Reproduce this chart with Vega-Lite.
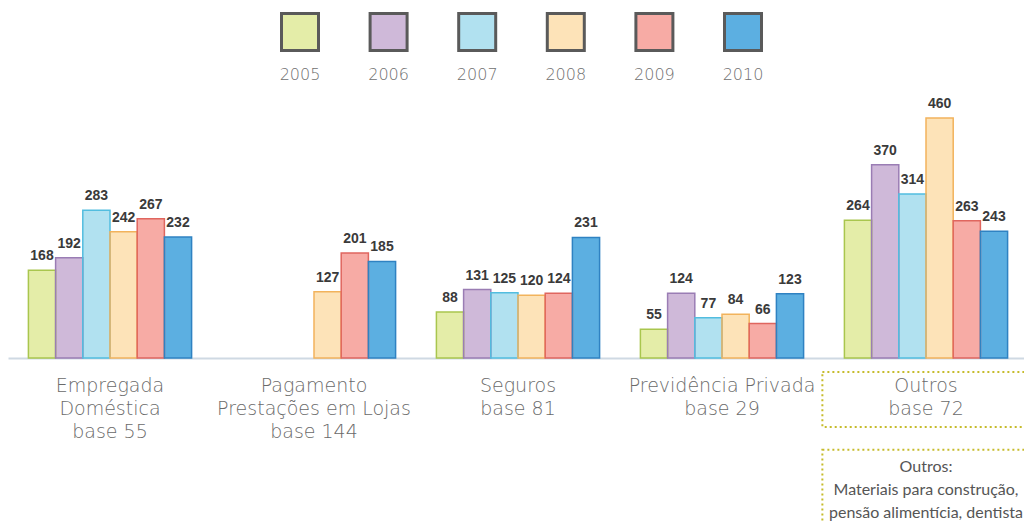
{
  "$schema": "https://vega.github.io/schema/vega-lite/v6.json",
  "width": 1020,
  "height": 261,
  "autosize": {"type": "none"},
  "padding": {"left": 8, "top": 97, "right": 0, "bottom": 165},
  "background": "white",
  "config": {"view": {"stroke": null}},
  "datasets": {
    "bars": [
      {"categoria": "Empregada|Doméstica|base 55", "ano": "2005", "valor": 168},
      {"categoria": "Empregada|Doméstica|base 55", "ano": "2006", "valor": 192},
      {"categoria": "Empregada|Doméstica|base 55", "ano": "2007", "valor": 283},
      {"categoria": "Empregada|Doméstica|base 55", "ano": "2008", "valor": 242},
      {"categoria": "Empregada|Doméstica|base 55", "ano": "2009", "valor": 267},
      {"categoria": "Empregada|Doméstica|base 55", "ano": "2010", "valor": 232},
      {"categoria": "Pagamento|Prestações em Lojas|base 144", "ano": "2008", "valor": 127},
      {"categoria": "Pagamento|Prestações em Lojas|base 144", "ano": "2009", "valor": 201},
      {"categoria": "Pagamento|Prestações em Lojas|base 144", "ano": "2010", "valor": 185},
      {"categoria": "Seguros|base 81", "ano": "2005", "valor": 88},
      {"categoria": "Seguros|base 81", "ano": "2006", "valor": 131},
      {"categoria": "Seguros|base 81", "ano": "2007", "valor": 125},
      {"categoria": "Seguros|base 81", "ano": "2008", "valor": 120},
      {"categoria": "Seguros|base 81", "ano": "2009", "valor": 124},
      {"categoria": "Seguros|base 81", "ano": "2010", "valor": 231},
      {"categoria": "Previdência Privada|base 29", "ano": "2005", "valor": 55},
      {"categoria": "Previdência Privada|base 29", "ano": "2006", "valor": 124},
      {"categoria": "Previdência Privada|base 29", "ano": "2007", "valor": 77},
      {"categoria": "Previdência Privada|base 29", "ano": "2008", "valor": 84},
      {"categoria": "Previdência Privada|base 29", "ano": "2009", "valor": 66},
      {"categoria": "Previdência Privada|base 29", "ano": "2010", "valor": 123},
      {"categoria": "Outros|base 72", "ano": "2005", "valor": 264},
      {"categoria": "Outros|base 72", "ano": "2006", "valor": 370},
      {"categoria": "Outros|base 72", "ano": "2007", "valor": 314},
      {"categoria": "Outros|base 72", "ano": "2008", "valor": 460},
      {"categoria": "Outros|base 72", "ano": "2009", "valor": 263},
      {"categoria": "Outros|base 72", "ano": "2010", "valor": 243}
    ],
    "notes": [
      {"categoria": "Outros|base 72", "nota": "Outros:|Materiais para construção,|pensão alimentícia, dentista"}
    ]
  },
  "layer": [
    {
      "data": {"name": "bars"},
      "mark": {"type": "bar", "strokeWidth": 0},
      "encoding": {
        "x": {
          "field": "categoria", "type": "nominal", "sort": null,
          "scale": {
            "domain": ["Empregada|Doméstica|base 55", "Pagamento|Prestações em Lojas|base 144", "Seguros|base 81", "Previdência Privada|base 29", "Outros|base 72"],
            "paddingInner": 0.2, "paddingOuter": 0.1
          },
          "axis": {
            "title": null, "ticks": false, "labelAngle": 0,
            "labelExpr": "split(datum.value, '|')",
            "labelFont": "DejaVu Sans", "labelFontWeight": 200, "labelFontSize": 19, "labelColor": "#6a6a6a",
            "labelLineHeight": 23, "labelPadding": 18, "labelLimit": 0,
            "domainColor": "#cfd9e3", "domainWidth": 2
          }
        },
        "xOffset": {
          "field": "ano", "type": "nominal",
          "scale": {"domain": ["2005", "2006", "2007", "2008", "2009", "2010"], "paddingInner": 0, "paddingOuter": 0}
        },
        "y": {"field": "valor", "type": "quantitative", "scale": {"domain": [0, 500], "nice": false}, "axis": null},
        "fill": {
          "field": "ano", "type": "nominal",
          "scale": {"domain": ["2005", "2006", "2007", "2008", "2009", "2010"], "range": ["#e4eda8", "#cfb9d9", "#b1e1f0", "#fde3b8", "#f7aba5", "#5cafe1"]},
          "legend": {
            "orient": "none", "legendX": 272, "legendY": -85, "direction": "horizontal", "title": null,
            "symbolType": "square", "symbolSize": 1369, "symbolStrokeColor": "#5a5a5a", "symbolStrokeWidth": 3,
            "symbolOpacity": 1,
            "labelFont": "DejaVu Sans", "labelFontWeight": 200, "labelFontSize": 16, "labelColor": "#707070",
            "labelAlign": "center", "labelBaseline": "middle", "labelOffset": -20,
            "columnPadding": 38.6, "padding": 0,
            "encoding": {
              "labels": {"dy": {"value": 43}}
            }
          }
        }
      }
    },
    {
      "data": {"name": "bars"},
      "mark": {"type": "bar", "strokeWidth": 1.5, "fill": null, "fillOpacity": 0},
      "encoding": {
        "x": {"field": "categoria", "type": "nominal", "sort": null},
        "xOffset": {"field": "ano", "type": "nominal"},
        "y": {"field": "valor", "type": "quantitative"},
        "stroke": {
          "field": "ano", "type": "nominal",
          "scale": {"domain": ["2010", "2009", "2008", "2007", "2006", "2005"], "range": ["#2f82c2", "#e0665f", "#f2b35c", "#52bddf", "#9a7db4", "#a9c64e"]},
          "legend": null
        }
      }
    },
    {
      "data": {"name": "bars"},
      "mark": {"type": "text", "baseline": "bottom", "dy": -7, "font": "Liberation Sans", "fontWeight": "bold", "fontSize": 14, "color": "#3a3a3a"},
      "encoding": {
        "x": {"field": "categoria", "type": "nominal", "sort": null},
        "xOffset": {"field": "ano", "type": "nominal"},
        "y": {"field": "valor", "type": "quantitative"},
        "text": {"field": "valor", "type": "quantitative"}
      }
    },
    {
      "data": {"name": "notes"},
      "mark": {"type": "rect", "width": {"band": 1.27}, "fill": null, "fillOpacity": 0, "stroke": "#c6bb2b", "strokeWidth": 2, "strokeDash": [2, 3]},
      "encoding": {
        "x": {"field": "categoria", "type": "nominal", "sort": null},
        "y": {"datum": -27},
        "y2": {"datum": -132}
      }
    },
    {
      "data": {"name": "notes"},
      "mark": {"type": "rect", "width": {"band": 1.27}, "fill": null, "fillOpacity": 0, "stroke": "#c6bb2b", "strokeWidth": 2, "strokeDash": [2, 3]},
      "encoding": {
        "x": {"field": "categoria", "type": "nominal", "sort": null},
        "y": {"datum": -176},
        "y2": {"datum": -340}
      }
    },
    {
      "data": {"name": "notes"},
      "mark": {"type": "text", "baseline": "top", "align": "center", "lineBreak": "|", "lineHeight": 23, "font": "Lato", "fontSize": 16, "color": "#555555"},
      "encoding": {
        "x": {"field": "categoria", "type": "nominal", "sort": null},
        "y": {"datum": -194},
        "text": {"field": "nota", "type": "nominal"}
      }
    }
  ]
}
